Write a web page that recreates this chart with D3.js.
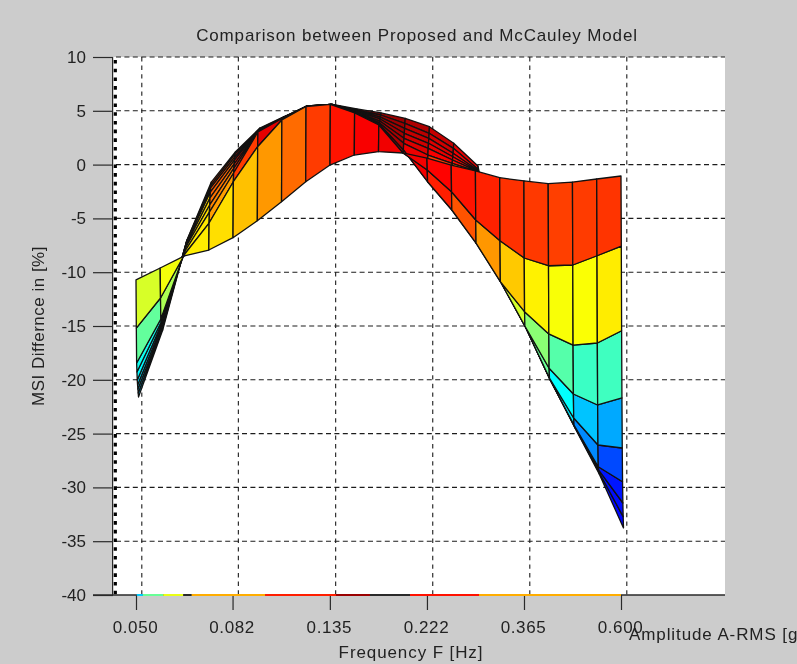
<!DOCTYPE html>
<html><head><meta charset="utf-8">
<script src="https://cdn.jsdelivr.net/npm/d3@7"></script>
<style>
html,body{margin:0;padding:0;background:#cccccc;overflow:hidden}
svg{display:block;filter:blur(0.45px)}
text{font-family:"Liberation Sans",Arial,sans-serif;fill:#222}
</style></head><body>
<svg id="c" width="797" height="664"></svg>
<script>
const chartTitle="Comparison between Proposed and McCauley Model";
const yLabel="MSI Differnce in [%]";
const xLabel="Frequency F [Hz]";
const amplitudeLabel="Amplitude A-RMS [g]";
const freqTicks=[0.050,0.082,0.135,0.222,0.365,0.600];
const msiTicks=[10,5,0,-5,-10,-15,-20,-25,-30,-35,-40];
const frequencies=[0.0500,0.0566,0.0641,0.0726,0.0822,0.0931,0.1054,0.1193,0.1351,0.1530,0.1732,0.1961,0.2220,0.2514,0.2846,0.3223,0.3649,0.4132,0.4679,0.5298,0.6000];
const amplitudes=[0.050,0.068,0.094,0.128,0.175,0.238,0.324,0.441,0.600];
const rowA=[-10.72,-9.61,-8.49,-7.94,-6.79,-5.21,-3.45,-1.59,-0.04,0.89,1.20,1.08,0.61,-0.04,-0.59,-1.22,-1.52,-1.77,-1.62,-1.34,-1.06];
const rowB=[-15.19,-12.40,-8.31,-5.43,-1.59,1.66,4.14,5.40,5.59,4.80,3.68,1.08,-0.50,-2.52,-5.15,-7.07,-8.68,-9.40,-9.33,-8.47,-7.57];
const rowC=[-18.44,-14.35,-8.03,-4.41,-0.78,3.03,4.28,5.42,5.59,4.84,3.77,1.36,-1.59,-4.22,-7.29,-10.88,-13.67,-15.74,-16.77,-16.58,-15.44];
const rowD=[-19.27,-14.63,-7.75,-3.75,-0.32,3.08,4.31,5.43,5.59,4.89,3.87,1.98,0.89,0.12,-0.64,-10.91,-15.00,-18.93,-21.32,-22.34,-21.69];
const rowE=[-20.02,-14.81,-7.56,-3.10,0.06,3.12,4.33,5.44,5.59,4.93,4.05,2.44,1.51,0.43,-0.59,-10.93,-15.05,-19.83,-23.55,-26.06,-26.34];
const rowF=[-20.48,-15.00,-7.38,-2.55,0.43,3.22,4.36,5.45,5.59,4.98,4.24,2.91,1.98,0.73,-0.55,-10.94,-15.09,-19.93,-24.20,-28.08,-29.47];
const rowG=[-20.86,-15.19,-7.24,-2.17,0.71,3.26,4.40,5.45,5.59,5.03,4.42,3.37,2.44,1.05,-0.50,-10.95,-15.14,-19.98,-24.29,-28.38,-31.45];
const rowH=[-21.23,-15.28,-7.10,-1.90,0.99,3.31,4.42,5.45,5.59,5.07,4.61,3.84,2.91,1.51,-0.41,-10.96,-15.19,-20.02,-24.38,-28.57,-32.72];
const rowI=[-21.60,-15.37,-7.01,-1.62,1.20,3.40,4.47,5.45,5.60,5.17,4.80,4.30,3.52,1.98,-0.13,-10.98,-15.23,-20.06,-24.48,-28.75,-33.77];
const rows=[rowA,rowB,rowC,rowD,rowE,rowF,rowG,rowH,rowI];
// projection of the surface onto the floor, seen along the bottom axis
const floorStart=[0.0502,0.0518,0.0575,0.0637,0.0665,0.0969,0.1393,0.1658,0.2036,0.2899];
const floorEnd=[0.0518,0.0575,0.0637,0.0665,0.0969,0.1393,0.1658,0.2036,0.2899,0.6000];
const floorZ=[-21,-15,-10,null,-6,-0.5,4.6,null,0,-6];

const svg=d3.select("#c");
const x=d3.scaleLog().domain([0.05,0.6]).range([136,621]);
const y=d3.scaleLinear().domain([-40,10]).range([595,57]);
const shift=d3.scaleLinear().domain([0,rows.length-1]).range([0,2.5]);
const wallShift=5.8;
const jet=d3.scaleLinear().domain([0,.125,.375,.625,.875,1])
  .range(["#000080","#0000ff","#00ffff","#ffff00","#ff0000","#800000"]).clamp(true);
const colorT=d3.scaleLinear().domain([-33.8,5.6]).range([0,1]);
const color=z=>jet(colorT(z));
const ink="#1c1c1c";

// plot area
svg.append("rect").attr("x",113).attr("y",y(10)).attr("width",612).attr("height",y(-40)-y(10)).attr("fill","#fff");

// grid
svg.append("g").selectAll("line").data(msiTicks).join("line")
  .attr("x1",116).attr("x2",725).attr("y1",d=>y(d)).attr("y2",d=>y(d))
  .attr("stroke",ink).attr("stroke-width",1.1).attr("stroke-dasharray","5 3.4").attr("opacity",d=>d===-40?0:1);
svg.append("g").selectAll("line").data(freqTicks).join("line")
  .attr("x1",d=>x(d)+wallShift).attr("x2",d=>x(d)+wallShift).attr("y1",y(10)).attr("y2",y(-40))
  .attr("stroke",ink).attr("stroke-width",1.1).attr("stroke-dasharray","4.4 4.2");

// left wall: the amplitude grid seen edge on
svg.append("line").attr("x1",115.3).attr("x2",115.3).attr("y1",y(10)+3).attr("y2",y(-40))
  .attr("stroke","#000").attr("stroke-width",3.2).attr("stroke-dasharray","3.6 5.1");

// surface: far rows first, every cell coloured by its first corner
const surface=svg.append("g");
const cells=[];
for(let r=rows.length-2;r>=0;r--){
  for(let i=0;i<frequencies.length-1;i++){
    cells.push({r,i});
  }
}
const pt=(r,i)=>[x(frequencies[i])+shift(r),y(rows[r][i])];
surface.selectAll("path").data(cells).join("path")
  .attr("d",c=>d3.line()([pt(c.r,c.i),pt(c.r,c.i+1),pt(c.r+1,c.i+1),pt(c.r+1,c.i)])+"Z")
  .attr("fill",c=>color(rows[c.r][c.i]))
  .attr("stroke","#111").attr("stroke-width",1.3).attr("stroke-linejoin","round");

// axes
const axisY=d3.axisLeft(y).tickValues(msiTicks).tickSize(20).tickPadding(7).tickFormat(d=>String(d));
const gy=svg.append("g").attr("transform","translate(113,0)").call(axisY);
const axisX=d3.axisBottom(x).tickValues(freqTicks).tickSize(15).tickPadding(11).tickFormat(d3.format(".3f"));
const gx=svg.append("g").attr("transform","translate(-1,595)").call(axisX);
for(const g of [gx,gy]){
  g.selectAll(".domain").remove();
  g.selectAll("line").attr("stroke","#2a2a2a").attr("stroke-width",1.2);
  g.selectAll("text").attr("font-size",17).attr("fill","#222");
}
gx.selectAll("line").attr("transform","translate(1,0)");
gx.selectAll("text").style("letter-spacing","0.6px");
svg.append("line").attr("x1",93).attr("x2",725).attr("y1",595).attr("y2",595).attr("stroke","#2a2a2a").attr("stroke-width",1.3);
svg.append("line").attr("x1",112.6).attr("x2",112.6).attr("y1",57).attr("y2",595).attr("stroke","#2a2a2a").attr("stroke-width",1.2);

// floor trace
svg.append("g").selectAll("line").data(floorStart).join("line")
  .attr("x1",d=>x(d)).attr("x2",(d,i)=>x(floorEnd[i])).attr("y1",595).attr("y2",595)
  .attr("stroke",(d,i)=>floorZ[i]===null?"#2a2a2a":color(floorZ[i])).attr("stroke-width",2);

// labels
svg.append("text").attr("x",417).attr("y",41).attr("text-anchor","middle").attr("font-size",17).style("letter-spacing","0.85px").text(chartTitle);
svg.append("text").attr("transform","translate(44,326) rotate(-90)").attr("text-anchor","middle").attr("font-size",17).style("letter-spacing","0.5px").text(yLabel);
svg.append("text").attr("x",411).attr("y",658).attr("text-anchor","middle").attr("font-size",17).style("letter-spacing","0.9px").text(xLabel);
svg.append("text").attr("x",629).attr("y",640).attr("font-size",17).style("letter-spacing","0.9px").text(amplitudeLabel);
</script>
</body></html>
